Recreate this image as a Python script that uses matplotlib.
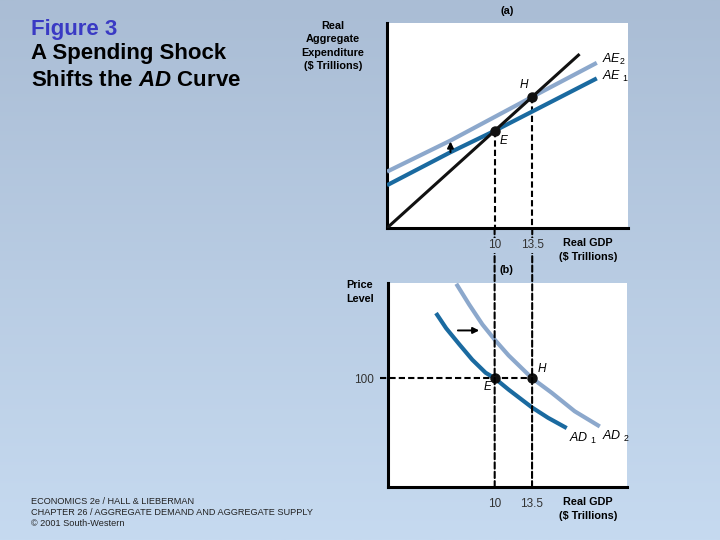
import matplotlib.pyplot as plt
import numpy as np
from matplotlib.patches import ConnectionPatch

plt.rcParams['font.family'] = ['Liberation Sans', 'DejaVu Sans']
plt.rcParams['mathtext.fontset'] = 'custom'
plt.rcParams['mathtext.rm'] = 'Liberation Sans'
plt.rcParams['mathtext.it'] = 'Liberation Sans:italic'
plt.rcParams['mathtext.bf'] = 'Liberation Sans:bold'
plt.rcParams['mathtext.bfit'] = 'Liberation Sans:italic:bold'

# panel (a): aggregate expenditure
line45_x = [0, 17.9]
line45_y = [0, 17.9]
ae1_x = [0, 5.9, 10, 19.5]
ae1_y = [4.4, 7.8, 10, 15.4]
ae2_x = [0, 5.9, 13.5, 19.5]
ae2_y = [5.8, 9.0, 13.5, 17.0]

# panel (b): aggregate demand
ad1_x = [4.5, 5.45, 6.7, 7.9, 9.15, 10, 11.3, 13.5, 15.0, 16.75]
ad1_y = [160, 146, 131, 117, 105, 100, 89.5, 73, 63.5, 54]
ad2_x = [6.4, 7.6, 8.85, 10, 11.3, 13.5, 15.35, 17.5, 19.85]
ad2_y = [187, 168, 149.5, 135.5, 121, 100, 86.5, 69.5, 55.5]

gdp_E, gdp_H = 10, 13.5
price_level = 100
gdp_ticks = [10, 13.5]
gdp_ticklabels = ['10', '13.5']

dark_blue = '#1a6aa0'
light_blue = '#8ca8cc'
top_bg = np.array([170, 189, 213]) / 255
bot_bg = np.array([198, 218, 240]) / 255

def bg_at(frac_from_top):
    return tuple(top_bg + (bot_bg - top_bg) * frac_from_top)

fig = plt.figure(figsize=(7.2, 5.4), dpi=100)

# gradient background
bg = fig.add_axes([0, 0, 1, 1], zorder=-10)
grad = np.linspace(0, 1, 256)[:, None, None]
img = top_bg[None, None, :] + (bot_bg - top_bg)[None, None, :] * grad
bg.imshow(img, aspect='auto', extent=[0, 1, 0, 1])
bg.set_axis_off()

dash = (0, (3, 1.5))
curve_kw = dict(lw=3, solid_capstyle='butt', solid_joinstyle='round', zorder=3)
arrow_kw = dict(arrowstyle='-|>', color='black', lw=1.4,
                mutation_scale=9, shrinkA=0, shrinkB=0)

# ---------- panel (a) ----------
ax1 = fig.add_axes([387/720, 1 - 228/540, 241/720, 205/540], zorder=2)
ax1.set_facecolor('white')
ax1.set_xlim(0, 22.4)
ax1.set_ylim(0, 21.1)
for s in ['top', 'right']:
    ax1.spines[s].set_visible(False)
for s in ['left', 'bottom']:
    ax1.spines[s].set_linewidth(2.2)
ax1.set_yticks([])
ax1.set_xticks(gdp_ticks)
ax1.set_xticklabels(gdp_ticklabels)
ax1.tick_params(axis='x', length=0, pad=8, labelsize=8.5, labelcolor='#333333')
for lab in ax1.get_xticklabels():
    lab.set_bbox(dict(facecolor=bg_at(244/540), edgecolor='none', pad=1))

ax1.plot(ae2_x, ae2_y, color=light_blue, **curve_kw)
ax1.plot(ae1_x, ae1_y, color=dark_blue, **curve_kw)
ax1.plot(line45_x, line45_y, color='#111111', lw=2.2, solid_capstyle='butt', zorder=4)
ax1.plot([gdp_E, gdp_E], [gdp_E, 0], color='black', lw=1.5, ls=dash, zorder=2)
ax1.plot([gdp_H, gdp_H], [gdp_H, 0], color='black', lw=1.5, ls=dash, zorder=2)
ax1.plot([gdp_E, gdp_H], [gdp_E, gdp_H], 'o', color='#111111', ms=6.5, zorder=5)
ax1.annotate('', xy=(ae1_x[1], ae2_y[1] - 0.1), xytext=(ae1_x[1], ae1_y[1]),
             arrowprops=arrow_kw)
ax1.text(gdp_H - 0.4, gdp_H + 0.6, 'H', style='italic', fontsize=8.5,
         ha='right', va='bottom')
ax1.text(gdp_E + 0.5, gdp_E - 0.4, 'E', style='italic', fontsize=8.5,
         ha='left', va='top')
ax1.text(ae2_x[-1] + 0.5, ae2_y[-1] + 0.3, r'$AE_2$', fontsize=9, ha='left', va='center')
ax1.text(ae1_x[-1] + 0.5, ae1_y[-1] + 0.2, r'$AE\ _1$', fontsize=9, ha='left', va='center')

# ---------- panel (b) ----------
ax2 = fig.add_axes([388/720, 1 - 486.7/540, 239/720, 204/540], zorder=0)
ax2.set_facecolor('white')
ax2.set_xlim(0, 22.4)
ax2.set_ylim(0, 188)
for s in ['top', 'right']:
    ax2.spines[s].set_visible(False)
for s in ['left', 'bottom']:
    ax2.spines[s].set_linewidth(2.2)
ax2.set_yticks([price_level])
ax2.set_yticklabels(['100'])
ax2.set_xticks(gdp_ticks)
ax2.set_xticklabels(gdp_ticklabels)
ax2.tick_params(axis='both', length=0, labelsize=8.5, labelcolor='#333333')
ax2.tick_params(axis='x', pad=8)
ax2.tick_params(axis='y', pad=10)

ax2.plot(ad2_x, ad2_y, color=light_blue, **curve_kw)
ax2.plot(ad1_x, ad1_y, color=dark_blue, **curve_kw)
ax2.plot([-0.75, gdp_H], [price_level, price_level], color='black', lw=1.5,
         ls=dash, clip_on=False, zorder=4)
ax2.plot([gdp_E, gdp_H], [price_level, price_level], 'o', color='#111111',
         ms=6.5, zorder=6)
ax2.annotate('', xy=(8.55, 144), xytext=(6.55, 144), arrowprops=arrow_kw)
ax2.text(gdp_H + 0.5, price_level + 3, 'H', style='italic', fontsize=8.5,
         ha='left', va='bottom')
ax2.text(gdp_E - 0.3, price_level - 3, 'E', style='italic', fontsize=8.5,
         ha='right', va='top')
ax2.text(ad1_x[-1] + 0.2, ad1_y[-1] - 3, r'$AD\ _1$', fontsize=9, ha='left', va='top')
ax2.text(ad2_x[-1] + 0.2, ad2_y[-1] - 2, r'$AD\ _2$', fontsize=9, ha='left', va='top')

# dashed connectors between panels
for g in [gdp_E, gdp_H]:
    con = ConnectionPatch(xyA=(g, 0), coordsA=ax1.transData,
                          xyB=(g, 0), coordsB=ax2.transData,
                          color='black', lw=1.5, ls=dash, zorder=1)
    fig.add_artist(con)

# ---------- labels ----------
fig.text(31/720, 1 - 29/540, 'Figure 3', fontsize=16, fontweight='bold',
         color='#3a3ac4', ha='left', va='center')
fig.text(31/720, 1 - 54/540, 'A Spending Shock', fontsize=16, fontweight='bold',
         ha='left', va='center')
fig.text(31/720, 1 - 80/540, r'Shifts the $\mathbfit{AD}$ Curve', fontsize=16,
         fontweight='bold', ha='left', va='center')

fig.text(333/720, 1 - 46/540, 'Real\nAggregate\nExpenditure\n($ Trillions)',
         fontsize=7.8, fontweight='bold', ha='center', va='center', linespacing=1.4)
fig.text(507/720, 1 - 11/540, '(a)', fontsize=7.8, fontweight='bold',
         ha='center', va='center')
fig.text(588/720, 1 - 250/540, 'Real GDP\n($ Trillions)', fontsize=7.8,
         fontweight='bold', ha='center', va='center', linespacing=1.4)
fig.text(506/720, 1 - 270/540, '(b)', fontsize=7.8, fontweight='bold',
         ha='center', va='center', bbox=dict(facecolor=bg_at(270/540),
                                             edgecolor='none', pad=1), zorder=3)
fig.text(360/720, 1 - 292/540, 'Price\nLevel', fontsize=7.8, fontweight='bold',
         ha='center', va='center', linespacing=1.4)
fig.text(588/720, 1 - 509/540, 'Real GDP\n($ Trillions)', fontsize=7.8,
         fontweight='bold', ha='center', va='center', linespacing=1.4)

footer = ['ECONOMICS 2e / HALL & LIEBERMAN',
          'CHAPTER 26 / AGGREGATE DEMAND AND AGGREGATE SUPPLY',
          '\u00a9 2001 South-Western']
for i, line in enumerate(footer):
    fig.text(31/720, 1 - (501 + 11.5 * i)/540, line, fontsize=6.6,
             ha='left', va='center', color='#222222')

fig.savefig('out.png', dpi=100)
